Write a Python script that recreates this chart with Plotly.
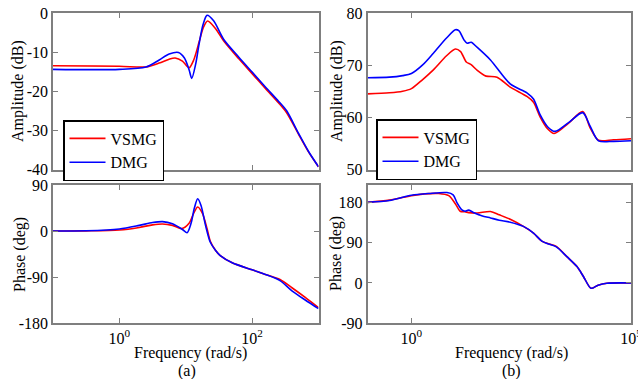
import plotly.graph_objects as go

# ---------------- data (log10 of frequency in rad/s) ----------------
# Panel (a) amplitude
a_amp_vsmg_logw = [-1, 0, 0.4, 0.6, 0.75, 0.84, 0.95, 1.05, 1.12, 1.2, 1.27, 1.33, 1.45, 1.57, 1.8, 2.0, 2.2, 2.4, 2.52, 2.7, 2.85, 3.0]
a_amp_vsmg = [-13.5, -13.6, -13.8, -12.8, -11.8, -11.5, -12.3, -14.0, -12.0, -7.5, -3.5, -2.05, -4.0, -7.1, -11.7, -15.5, -19.3, -23.0, -25.5, -31.0, -35.5, -39.3]
a_amp_dmg_logw = [-1, 0, 0.4, 0.6, 0.75, 0.89, 0.98, 1.05, 1.09, 1.15, 1.2, 1.26, 1.32, 1.42, 1.57, 1.8, 2.0, 2.2, 2.4, 2.52, 2.7, 2.85, 3.0]
a_amp_dmg = [-14.4, -14.4, -13.8, -12.0, -10.5, -10.1, -11.5, -14.5, -16.7, -13.0, -8.0, -3.0, -0.6, -2.0, -6.7, -11.3, -15.1, -18.9, -22.6, -25.0, -30.8, -35.4, -39.3]

# Panel (a) phase
a_ph_vsmg_logw = [-1, -0.5, 0, 0.3, 0.5, 0.65, 0.8, 0.94, 1.05, 1.12, 1.18, 1.25, 1.32, 1.37, 1.45, 1.52, 1.7, 2.0, 2.2, 2.42, 2.6, 2.8, 3.0]
a_ph_vsmg = [0, 0.3, 2, 7, 12, 13.8, 11, 4.6, 15, 35, 47, 35, 5, -20, -38, -48, -62, -76, -85, -95, -111, -130, -150]
a_ph_dmg_logw = [-1, -0.5, 0, 0.3, 0.5, 0.65, 0.8, 0.95, 1.02, 1.08, 1.13, 1.18, 1.23, 1.3, 1.37, 1.45, 1.52, 1.7, 2.0, 2.2, 2.42, 2.6, 2.8, 3.0]
a_ph_dmg = [0, 0.5, 4, 11, 16.5, 18.4, 14, 3, -3.3, 15, 45, 63, 50, 10, -22, -38, -48, -62, -76, -85, -97, -117, -135, -152]

# Panel (b) amplitude
b_amp_vsmg_logw = [-1, -0.5, -0.2, 0, 0.25, 0.5, 0.8, 1.0, 1.12, 1.25, 1.36, 1.5, 1.7, 1.95, 2.25, 2.63, 2.78, 2.93, 3.1, 3.25, 3.58, 3.9, 4.07, 4.26, 4.6, 5.0]
b_amp_vsmg = [64.5, 64.7, 65.0, 65.5, 67.2, 69.1, 71.8, 73.1, 72.6, 70.6, 70.1, 69.0, 67.9, 67.7, 65.8, 64.0, 62.9, 60.1, 57.8, 56.9, 58.9, 61.1, 58.0, 55.6, 55.7, 55.9]
b_amp_dmg_logw = [-1, -0.5, -0.2, 0, 0.25, 0.5, 0.8, 1.0, 1.08, 1.2, 1.27, 1.36, 1.5, 1.8, 2.25, 2.63, 2.78, 2.93, 3.1, 3.27, 3.58, 3.9, 4.07, 4.26, 4.6, 5.0]
b_amp_dmg = [67.6, 67.7, 68.0, 68.4, 70.0, 72.3, 75.2, 76.8, 76.6, 74.8, 74.2, 74.4, 73.4, 71.0, 66.4, 64.7, 63.5, 60.5, 58.2, 57.3, 59.0, 60.9, 58.3, 55.5, 55.4, 55.5]

# Panel (b) phase
b_ph_vsmg_logw = [-1, -0.5, 0, 0.3, 0.62, 0.85, 1.0, 1.11, 1.22, 1.3, 1.5, 1.8, 2.0, 2.25, 2.55, 2.78, 2.97, 3.12, 3.3, 3.54, 3.77, 3.92, 4.09, 4.25, 4.45, 5.0]
b_ph_vsmg = [181, 186, 196, 200, 201, 196, 178, 161, 160, 158, 157, 160.5, 153, 143, 127, 112, 94, 88, 82, 59, 36.7, 14, -12, -5, -0.7, 0]
b_ph_dmg_logw = [-1, -0.5, 0, 0.4, 0.81, 0.95, 1.04, 1.15, 1.22, 1.3, 1.4, 1.6, 1.8, 2.0, 2.25, 2.55, 2.78, 2.97, 3.12, 3.3, 3.54, 3.77, 3.92, 4.09, 4.25, 4.45, 5.0]
b_ph_dmg = [181, 185, 197, 201, 203, 198, 180, 164, 161, 163.5, 159, 151, 146, 141, 136.5, 127, 112, 94, 87.5, 81, 59, 36.7, 14, -12, -5, -0.7, 0]

legend_names = ["VSMG", "DMG"]
colors = ["#ff0000", "#0000ff"]

a_amp_ticks = [0, -10, -20, -30, -40]
a_ph_ticks = [90, 0, -90, -180]
b_amp_ticks = [50, 60, 70, 80]
b_ph_ticks = [180, 90, 0, -90]

FONT = "Liberation Serif"

def w(logs):
    return [10 ** v for v in logs]

fig = go.Figure()

def add(x, y, name, color, xa, ya, legend, show):
    fig.add_trace(go.Scatter(x=w(x), y=y, mode="lines", name=name,
                             line=dict(color=color, width=1.6, shape="spline", smoothing=0.8),
                             xaxis=xa, yaxis=ya, legend=legend, showlegend=show))

add(a_amp_vsmg_logw, a_amp_vsmg, legend_names[0], colors[0], "x", "y", "legend", True)
add(a_amp_dmg_logw, a_amp_dmg, legend_names[1], colors[1], "x", "y", "legend", True)
add(a_ph_vsmg_logw, a_ph_vsmg, legend_names[0], colors[0], "x2", "y2", "legend", False)
add(a_ph_dmg_logw, a_ph_dmg, legend_names[1], colors[1], "x2", "y2", "legend", False)
add(b_amp_vsmg_logw, b_amp_vsmg, legend_names[0], colors[0], "x3", "y3", "legend2", True)
add(b_amp_dmg_logw, b_amp_dmg, legend_names[1], colors[1], "x3", "y3", "legend2", True)
add(b_ph_vsmg_logw, b_ph_vsmg, legend_names[0], colors[0], "x4", "y4", "legend2", False)
add(b_ph_dmg_logw, b_ph_dmg, legend_names[1], colors[1], "x4", "y4", "legend2", False)

W, H = 638, 379
def px_x(p): return p / W
def px_y(p): return 1 - p / H

axis_common = dict(showline=True, linecolor="#7f7f7f", linewidth=1.5, mirror="ticks",
                   ticks="inside", ticklen=5, tickcolor="#7f7f7f", tickwidth=1.2,
                   showgrid=False, zeroline=False, automargin=False,
                   ticklabeloverflow="allow",
                   tickfont=dict(family=FONT, size=16, color="black"))

def fmt(v):
    return ("-" + str(abs(v))) if v < 0 else str(v)

xa_dom = [px_x(53), px_x(318.5)]
xb_dom = [px_x(367.5), px_x(631)]
top_dom = [px_y(169.5), px_y(13)]
bot_dom = [px_y(323), px_y(185)]

fig.update_layout(
    width=W, height=H, margin=dict(l=0, r=0, t=0, b=0, autoexpand=False),
    paper_bgcolor="white", plot_bgcolor="white",
    font=dict(family=FONT, size=16, color="black"),
    xaxis=dict(axis_common, type="log", range=[-1, 3], domain=xa_dom, anchor="y",
               tickvals=[1, 100], showticklabels=False),
    yaxis=dict(axis_common, range=[-40, 0], domain=top_dom, anchor="x",
               tickvals=a_amp_ticks, ticktext=[fmt(v) for v in a_amp_ticks]),
    xaxis2=dict(axis_common, type="log", range=[-1, 3], domain=xa_dom, anchor="y2",
                tickvals=[1, 100], ticktext=["10<sup>0</sup>", "10<sup>2</sup>"]),
    yaxis2=dict(axis_common, range=[-180, 90], domain=bot_dom, anchor="x2",
                tickvals=a_ph_ticks, ticktext=[fmt(v) for v in a_ph_ticks]),
    xaxis3=dict(axis_common, type="log", range=[-1, 5.0005], domain=xb_dom, anchor="y3",
                tickvals=[1, 1e5], showticklabels=False),
    yaxis3=dict(axis_common, range=[50, 80], domain=top_dom, anchor="x3",
                tickvals=b_amp_ticks, ticktext=[fmt(v) for v in b_amp_ticks]),
    xaxis4=dict(axis_common, type="log", range=[-1, 5.0005], domain=xb_dom, anchor="y4",
                tickvals=[1, 1e5], ticktext=["10<sup>0</sup>", "10<sup>5</sup>"]),
    yaxis4=dict(axis_common, range=[-90, 220], domain=bot_dom, anchor="x4",
                tickvals=b_ph_ticks, ticktext=[fmt(v) for v in b_ph_ticks]),
    legend=dict(x=px_x(63), y=px_y(120), xanchor="left", yanchor="top",
                bgcolor="white", bordercolor="black", borderwidth=1.5,
                font=dict(family=FONT, size=16), tracegroupgap=0, itemwidth=36),
    legend2=dict(x=px_x(376), y=px_y(119), xanchor="left", yanchor="top",
                 bgcolor="white", bordercolor="black", borderwidth=1.5,
                 font=dict(family=FONT, size=16), tracegroupgap=0, itemwidth=36),
)

annots = [
    ("Frequency (rad/s)", 190, 353, 0),
    ("(a)", 187, 371, 0),
    ("Frequency (rad/s)", 511, 353, 0),
    ("(b)", 511, 371, 0),
    ("Amplitude (dB)", 18, 91, -90),
    ("Phase (deg)", 20, 254, -90),
    ("Amplitude (dB)", 337, 91, -90),
    ("Phase (deg)", 336, 254, -90),
]
for text, x, y, ang in annots:
    fig.add_annotation(text=text, x=px_x(x), y=px_y(y), xref="paper", yref="paper",
                       showarrow=False, xanchor="center", yanchor="middle", textangle=ang,
                       font=dict(family=FONT, size=16, color="black"))

fig.write_html("out.html", config={"displayModeBar": False},
               post_script="document.body.style.margin='0';")
